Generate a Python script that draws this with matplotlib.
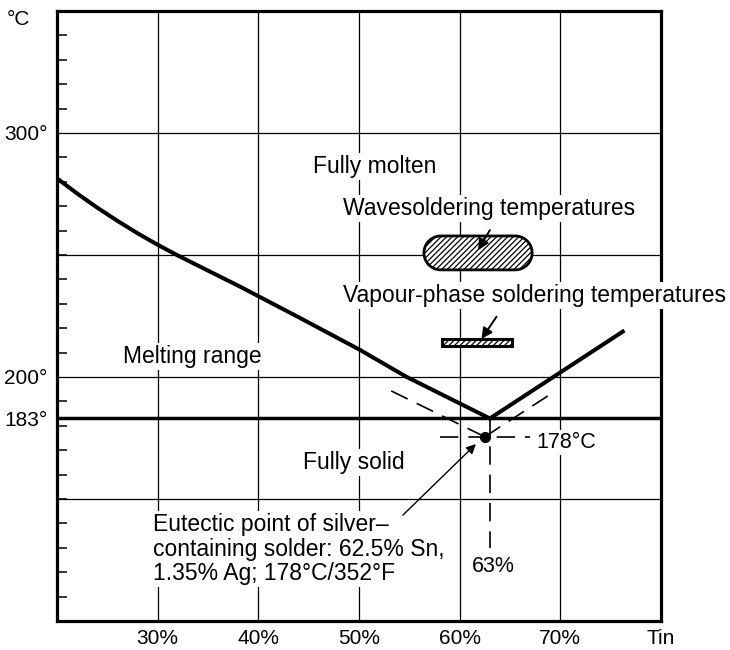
import matplotlib
matplotlib.use('Agg')
import numpy as np
import matplotlib.pyplot as plt
from matplotlib.patches import Rectangle, PathPatch
from matplotlib.path import Path

plt.rcParams['font.family'] = ['Liberation Sans', 'DejaVu Sans']
plt.rcParams['hatch.linewidth'] = 0.9

# liquidus of tin-lead solder (% tin, deg C)
liq_left_x = [20.0, 22.0, 24.0, 26.0, 28.0, 30.0, 32.0, 35.0, 38.2, 44.0, 50.1, 54.7, 63.0]
liq_left_t = [281.4, 275.2, 269.4, 264.0, 258.9, 254.2, 249.8, 243.6, 237.0, 224.5, 211.1, 200.1, 183.0]
liq_right_x = [63.0, 76.2]
liq_right_t = [183.0, 218.6]
solidus_t = 183

# silver-containing solder (dashed)
ag_left_x = [53.2, 62.5]
ag_left_t = [194.3, 175.5]
ag_right_x = [62.5, 69.3]
ag_right_t = [175.5, 193.7]
ag_eutectic = (62.5, 175.5)
ag_hline_x = [58.0, 67.0]
eut_vline_t = [183.0, 130.0]
eut_x = 63

# soldering temperature ranges
wave_x = (56.45, 67.2)
wave_t = (243.9, 257.8)
vapour_x = (58.2, 65.2)
vapour_t = (212.7, 215.5)

grid_x = [30, 40, 50, 60, 70]
grid_t = [150, 200, 250, 300]
x_ticks = [30, 40, 50, 60, 70, 80]
x_labels = ['30%', '40%', '50%', '60%', '70%', 'Tin']
y_ticks = [183, 200, 300]
y_labels = ['183°', '200°', '300°']

fig = plt.figure(figsize=(7.3, 6.5), dpi=100)
ax = fig.add_axes([57 / 730, 1 - 621 / 650, 604 / 730, 610 / 650])
ax.set_xlim(20, 80)
ax.set_ylim(100, 350)

for s in ax.spines.values():
    s.set_linewidth(2.3)

for gx in grid_x:
    ax.axvline(gx, color='black', lw=0.9, zorder=1)
for gt in grid_t:
    ax.axhline(gt, color='black', lw=0.9, zorder=1)
ax.axhline(solidus_t, color='black', lw=2.5, zorder=2)

ax.plot(liq_left_x, liq_left_t, color='black', lw=2.9, solid_joinstyle='round', zorder=2)
ax.plot(liq_right_x, liq_right_t, color='black', lw=2.9, zorder=2)

dash = dict(color='black', lw=1.2, dashes=(11, 6), zorder=2)
ax.plot(ag_left_x, ag_left_t, **dash)
ax.plot(ag_right_x, ag_right_t, **dash)
ax.plot(ag_hline_x, [ag_eutectic[1]] * 2, **dash)
ax.plot([eut_x, eut_x], eut_vline_t, **dash)
ax.plot(*ag_eutectic, 'o', color='black', ms=7, zorder=4)

# stadium shaped wave-soldering zone (round ends in screen space)
rx = (wave_t[1] - wave_t[0]) / 2 * 2.44 / 10.07
ry = (wave_t[1] - wave_t[0]) / 2
cy = (wave_t[0] + wave_t[1]) / 2
a1 = np.linspace(-np.pi / 2, np.pi / 2, 30)
a2 = np.linspace(np.pi / 2, 3 * np.pi / 2, 30)
xs = np.concatenate([wave_x[1] - rx + rx * np.cos(a1), wave_x[0] + rx + rx * np.cos(a2)])
ys = np.concatenate([cy + ry * np.sin(a1), cy + ry * np.sin(a2)])
verts = np.column_stack([xs, ys])
verts = np.vstack([verts, verts[:1]])
ax.add_patch(PathPatch(Path(verts, closed=True), facecolor='white', edgecolor='black',
                       hatch='//////', lw=2.0, zorder=3))
ax.add_patch(Rectangle((vapour_x[0], vapour_t[0]), vapour_x[1] - vapour_x[0],
                       vapour_t[1] - vapour_t[0], facecolor='white', edgecolor='black',
                       hatch='//////', lw=2.2, zorder=3))

arrow = dict(arrowstyle='-|>', color='black', lw=1.4, mutation_scale=16, shrinkA=0, shrinkB=0)
ax.annotate('', xy=(61.84, 252.0), xytext=(63.0, 260.2), arrowprops=arrow, zorder=5)
ax.annotate('', xy=(62.17, 215.6), xytext=(63.66, 224.7), arrowprops=arrow, zorder=5)
ax.annotate('', xy=(61.61, 172.5), xytext=(54.36, 143.4),
            arrowprops=dict(arrowstyle='-|>', color='black', lw=1.0, mutation_scale=14,
                            shrinkA=0, shrinkB=0), zorder=5)

fs = 16.5
box = dict(facecolor='white', edgecolor='none', pad=1.5)
texts = [
    (45.4, 283.5, 'Fully molten'),
    (48.4, 266.4, 'Wavesoldering temperatures'),
    (48.4, 230.9, 'Vapour-phase soldering temperatures'),
    (26.6, 205.7, 'Melting range'),
    (44.46, 162.2, 'Fully solid'),
]
for tx, ty, s in texts:
    ax.text(tx, ty, s, fontsize=fs, ha='left', va='baseline', bbox=box, zorder=3)
ax.text(29.56, 116.8, 'Eutectic point of silver\u2013\ncontaining solder: 62.5% Sn,\n'
        '1.35% Ag; 178°C/352°F', fontsize=fs, ha='left', va='baseline',
        linespacing=1.07, bbox=box, zorder=3)
ax.text(67.6, 170.8, '178°C', fontsize=15.5, ha='left', va='baseline', bbox=box, zorder=3)
ax.text(61.2, 120.1, '63%', fontsize=15.5, ha='left', va='baseline', bbox=box, zorder=3)

ax.set_xticks(x_ticks)
ax.set_xticklabels(x_labels, fontsize=15)
ax.tick_params(axis='x', length=0, pad=6)
ax.set_yticks(y_ticks)
ax.set_yticklabels(y_labels, fontsize=15)
ax.set_yticks(np.arange(110, 350, 10), minor=True)
ax.tick_params(axis='y', which='major', length=0, pad=7)
ax.tick_params(axis='y', which='minor', direction='in', length=7, width=1.1)
fig.text(18.5 / 730, 1 - 19.5 / 650, '°C', fontsize=15, ha='center', va='center')

fig.savefig('out.png', dpi=100)
